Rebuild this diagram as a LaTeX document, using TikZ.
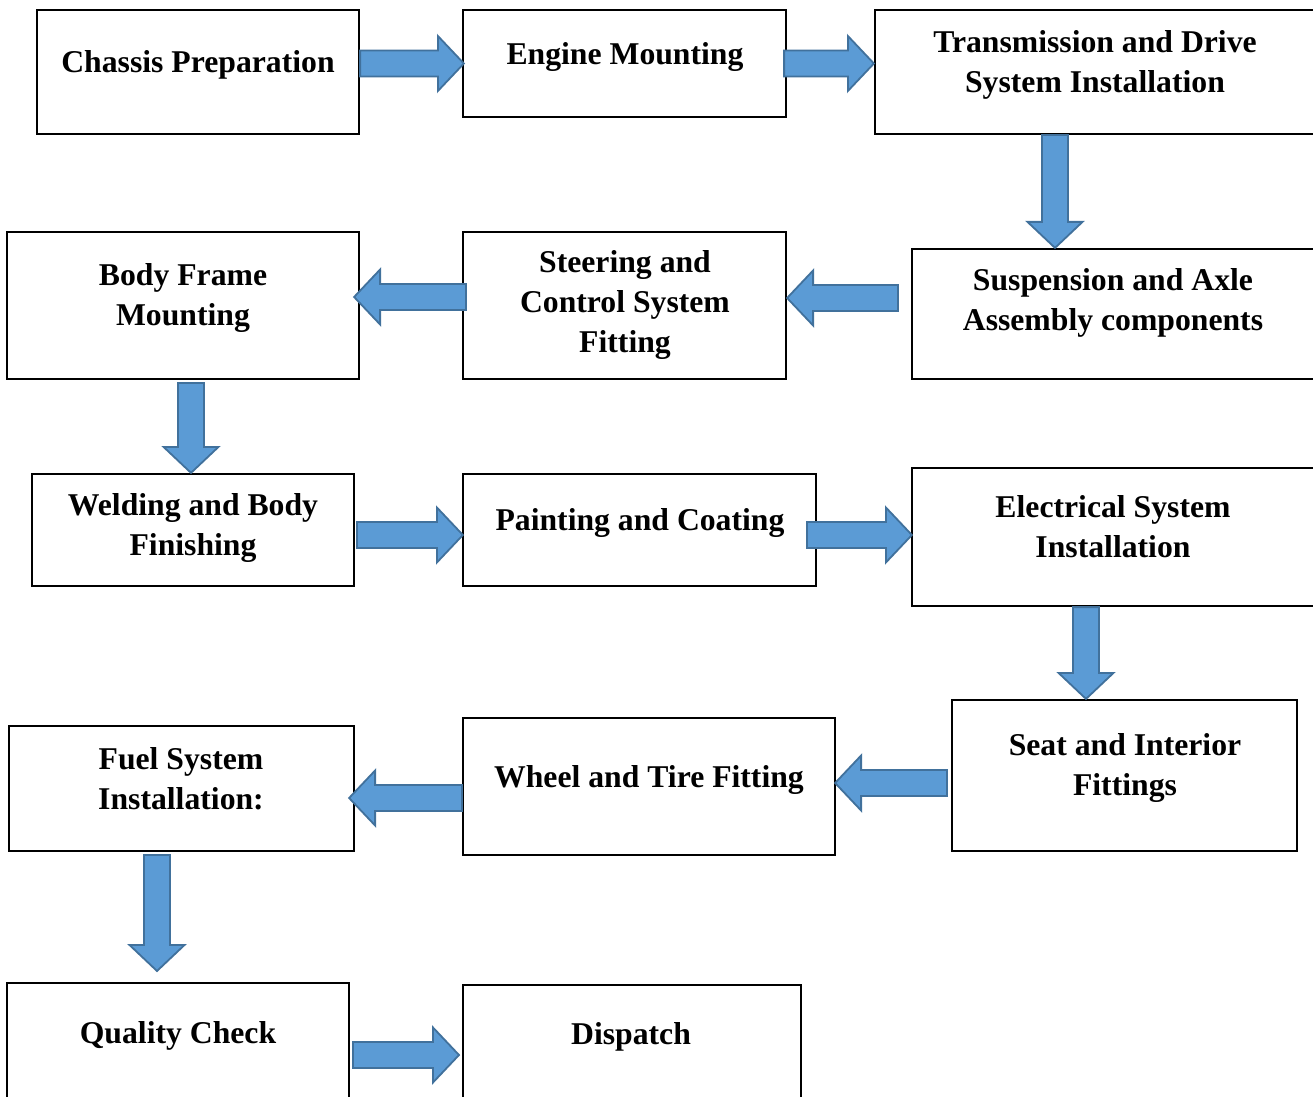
\documentclass[tikz,border=0pt]{standalone}
\usepackage{fontspec}
\setmainfont{Liberation Serif}
\usetikzlibrary{calc}
\definecolor{arrowfill}{HTML}{5B9BD5}
\definecolor{arrowline}{HTML}{41719C}
\begin{document}
\begin{tikzpicture}[x=0.5pt,y=-0.5pt,
  box/.style={draw=black, line width=1.1pt, rectangle, inner sep=0pt},
  lbl/.style={font=\fontsize{15.85pt}{20pt}\selectfont\bfseries, align=center, inner sep=0pt},
  blockarrow/.style={draw=arrowline, fill=arrowfill, line width=0.9pt, line join=miter,
    to path={
      ($(\tikztostart)!6.5pt!90:(\tikztotarget)$)
      -- ($(\tikztotarget)!13pt!(\tikztostart)!6.5pt!90:(\tikztotarget)$)
      -- ($(\tikztotarget)!13pt!(\tikztostart)!13.75pt!90:(\tikztotarget)$)
      -- (\tikztotarget)
      -- ($(\tikztotarget)!13pt!(\tikztostart)!13.75pt!-90:(\tikztotarget)$)
      -- ($(\tikztotarget)!13pt!(\tikztostart)!6.5pt!-90:(\tikztotarget)$)
      -- ($(\tikztostart)!6.5pt!-90:(\tikztotarget)$)
      -- cycle}}]
\useasboundingbox (0,0) rectangle (1313,1097);
\fill[white] (0,0) rectangle (1313,1097);

% boxes
\node[box, minimum width=161pt, minimum height=62pt]   (n1)  at (198,72) {};
\node[box, minimum width=161.5pt, minimum height=53.5pt] (n2) at (624.5,63.5) {};
\node[box, minimum width=227.5pt, minimum height=62pt] (n3)  at (1102.5,72) {};
\node[box, minimum width=209pt, minimum height=65pt]   (n4)  at (1121,314) {};
\node[box, minimum width=161.5pt, minimum height=73.5pt] (n5) at (624.5,305.5) {};
\node[box, minimum width=176pt, minimum height=73.5pt] (n6)  at (183,305.5) {};
\node[box, minimum width=161pt, minimum height=56pt]   (n7)  at (193,530) {};
\node[box, minimum width=176.5pt, minimum height=56pt] (n8)  at (639.5,530) {};
\node[box, minimum width=209pt, minimum height=69pt]   (n9)  at (1121,537) {};
\node[box, minimum width=172.5pt, minimum height=75.5pt] (n10) at (1124.5,775.5) {};
\node[box, minimum width=186pt, minimum height=68.5pt] (n11) at (649,786.5) {};
\node[box, minimum width=172.5pt, minimum height=62.5pt] (n12) at (181.5,788.5) {};
\node[box, minimum width=171pt, minimum height=63.5pt] (n13) at (178,1046.5) {};
\node[box, minimum width=169pt, minimum height=62.5pt] (n14) at (632,1047.5) {};

% labels
\node[lbl] (t1)  at (198,65)   {Chassis Preparation};
\node[lbl] (t2)  at (625,57)   {Engine Mounting};
\node[lbl] (t3)  at (1095,65)  {Transmission and Drive\\System Installation};
\node[lbl] (t4)  at (1113,303) {Suspension and Axle\\Assembly components};
\node[lbl] (t5)  at (625,305)  {Steering and\\Control System\\Fitting};
\node[lbl] (t6)  at (183,298)  {Body Frame\\Mounting};
\node[lbl] (t7)  at (193,528)  {Welding and Body\\Finishing};
\node[lbl] (t8)  at (640,523)  {Painting and Coating};
\node[lbl] (t9)  at (1113,527) {Electrical System\\Installation};
\node[lbl] (t10) at (1125,768) {Seat and Interior\\Fittings};
\node[lbl] (t11) at (649,780)  {Wheel and Tire Fitting};
\node[lbl] (t12) at (181,779)  {Fuel System\\Installation:};
\node[lbl] (t13) at (178,1036) {Quality Check};
\node[lbl] (t14) at (631,1037) {Dispatch};

% arrow end points
\coordinate (a1s)  at (n1.east |- n2.west);
\coordinate (a1t)  at ([xshift=1pt]n2.west);
\coordinate (a2s)  at ([xshift=-1.5pt]n2.east);
\coordinate (a2t)  at (n3.west |- n2.east);
\coordinate (a3s)  at (1055,0 |- n3.south);
\coordinate (a3t)  at (1055,0 |- n4.north);
\coordinate (a4s)  at (898,298);
\coordinate (a4t)  at (n5.east |- a4s);
\coordinate (a5s)  at (466,297);
\coordinate (a5t)  at ([xshift=-3pt]n6.east |- a5s);
\coordinate (a6s)  at (191,383);
\coordinate (a6t)  at (191,0 |- n7.north);
\coordinate (a7s)  at (357,535);
\coordinate (a7t)  at ([xshift=0.5pt]n8.west |- a7s);
\coordinate (a8s)  at (807,535);
\coordinate (a8t)  at ([xshift=0.5pt]n9.west |- a8s);
\coordinate (a9s)  at (1086,0 |- n9.south);
\coordinate (a9t)  at (1086,0 |- n10.north);
\coordinate (a10s) at (947,783);
\coordinate (a10t) at ([xshift=-0.5pt]n11.east |- a10s);
\coordinate (a11s) at (462,798);
\coordinate (a11t) at ([xshift=-3pt]n12.east |- a11s);
\coordinate (a12s) at (157,855);
\coordinate (a12t) at (157,971);
\coordinate (a13s) at (353,1055);
\coordinate (a13t) at (459,1055);

% block arrows
\draw[blockarrow] (a1s) to (a1t);
\draw[blockarrow] (a2s) to (a2t);
\draw[blockarrow] (a3s) to (a3t);
\draw[blockarrow] (a4s) to (a4t);
\draw[blockarrow] (a5s) to (a5t);
\draw[blockarrow] (a6s) to (a6t);
\draw[blockarrow] (a7s) to (a7t);
\draw[blockarrow] (a8s) to (a8t);
\draw[blockarrow] (a9s) to (a9t);
\draw[blockarrow] (a10s) to (a10t);
\draw[blockarrow] (a11s) to (a11t);
\draw[blockarrow] (a12s) to (a12t);
\draw[blockarrow] (a13s) to (a13t);
\end{tikzpicture}
\end{document}
